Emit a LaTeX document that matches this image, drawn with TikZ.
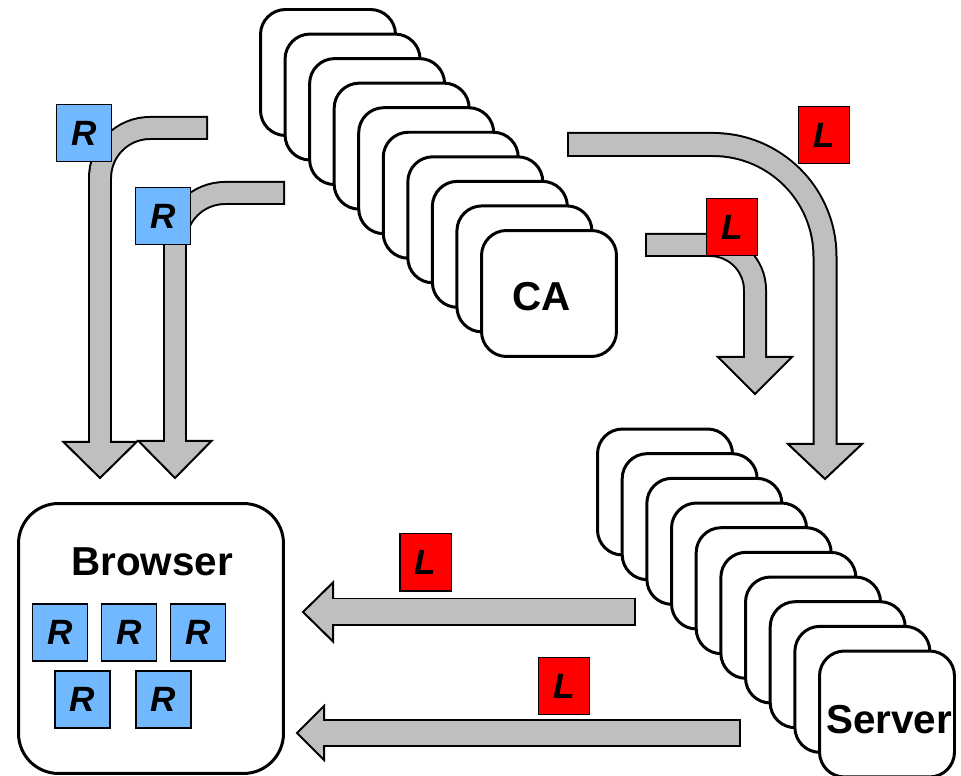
\documentclass[tikz,border=0pt]{standalone}
\usepackage{fontspec}
\setmainfont{Liberation Sans}
\usepackage{xcolor}
\usepackage{tikz}
\usetikzlibrary{calc}
\definecolor{arrowgray}{RGB}{191,191,191}
\definecolor{rblue}{RGB}{112,184,255}
\definecolor{lred}{RGB}{255,0,0}

\begin{document}
\begin{tikzpicture}[x=0.02cm, y=-0.02cm,
        stackbox/.style={draw, fill=white, rounded corners=0.5cm, line width=1.7pt, minimum width=2.7cm, minimum height=2.52cm},
        browserbox/.style={draw, fill=white, rounded corners=0.8cm, line width=1.7pt, minimum width=5.3cm, minimum height=5.4cm},
        bigtext/.style={inner sep=0pt, font=\fontsize{23}{27}\selectfont\bfseries},
        rbox/.style={draw, fill=rblue, line width=0.85pt, inner sep=0pt, minimum width=1.11cm, minimum height=1.15cm, font=\fontsize{20}{24}\selectfont\bfseries\itshape},
        lbox/.style={draw, fill=lred, line width=0.85pt, inner sep=0pt, minimum width=1.03cm, minimum height=1.15cm, font=\fontsize{20}{24}\selectfont\bfseries\itshape},
        fatline/.style={draw=black, line width=#1},
        fatfill/.style={draw=arrowgray, line width=#1, shorten <=0.04cm, shorten >=-0.12cm},
        fathead/.style={fill=arrowgray, draw=black, line width=0.04cm, line join=miter}]
        \useasboundingbox (0,0) rectangle (961,776);

        % certificate authorities
        \foreach \i in {0,...,8}
            \node[stackbox] (ca\i) at (328+24.55*\i, 72.5+24.55*\i) {};
        \node[stackbox] (ca) at (549, 293.5) {};
        \node[bigtext] (catext) at (542, 297) {CA};

        % servers
        \foreach \i in {0,...,8}
            \node[stackbox] (srv\i) at (665+24.67*\i, 492+24.67*\i) {};
        \node[stackbox] (srv) at (887, 714) {};
        \node[bigtext] (srvtext) at (889, 720) {Server};

        % browser
        \node[browserbox] (browser) at (151, 638.5) {};
        \node[bigtext] (browsertext) at (152, 562) {Browser};
        \node[rbox] (rb1) at (60, 632.5) {R};
        \node[rbox] (rb2) at (129, 632.5) {R};
        \node[rbox] (rb3) at (198, 632.5) {R};
        \node[rbox] (rb4) at (82.5, 699.5) {R};
        \node[rbox] (rb5) at (163.5, 699.5) {R};

        % roots to the browser
        \coordinate (r1s) at (208, 128);
        \coordinate (r1b) at (100, 442);
        \coordinate (r1t) at (100, 478);
        \draw[fatline=0.48cm, rounded corners=1cm] (r1s) -| (r1b);
        \draw[fathead] ($(r1b)+(-36.5,0)$) -- (r1t) -- ($(r1b)+(36.5,0)$) -- cycle;
        \draw[fatfill=0.40cm, rounded corners=1cm] (r1s) -| (r1b);

        \coordinate (r2s) at (285, 193);
        \coordinate (r2b) at (175, 441);
        \coordinate (r2t) at (175, 478);
        \draw[fatline=0.48cm, rounded corners=1cm] (r2s) -| (r2b);
        \draw[fathead] ($(r2b)+(-36.5,0)$) -- (r2t) -- ($(r2b)+(36.5,0)$) -- cycle;
        \draw[fatfill=0.40cm, rounded corners=1cm] (r2s) -| (r2b);

        \node[rbox] (rr1) at (84, 133) {R};
        \node[rbox] (rr2) at (163, 216) {R};

        % leaves to the servers
        \coordinate (l1s) at (567, 144.5);
        \coordinate (l1b) at (825, 444);
        \coordinate (l1t) at (825, 479);
        \draw[fatline=0.5cm, rounded corners=2.24cm] (l1s) -| (l1b);
        \draw[fathead] ($(l1b)+(-37,0)$) -- (l1t) -- ($(l1b)+(37,0)$) -- cycle;
        \draw[fatfill=0.42cm, rounded corners=2.24cm] (l1s) -| (l1b);

        \coordinate (l2s) at (645, 245);
        \coordinate (l2b) at (755, 357);
        \coordinate (l2t) at (755, 394);
        \draw[fatline=0.48cm, rounded corners=0.9cm] (l2s) -| (l2b);
        \draw[fathead] ($(l2b)+(-37,0)$) -- (l2t) -- ($(l2b)+(37,0)$) -- cycle;
        \draw[fatfill=0.40cm, rounded corners=0.9cm] (l2s) -| (l2b);

        \node[lbox] (lb1) at (824, 135) {L};
        \node[lbox] (lb2) at (732, 227) {L};

        % leaves to the browser
        \coordinate (l3s) at (636, 612);
        \coordinate (l3b) at (333, 612);
        \coordinate (l3t) at (303, 612);
        \draw[fatline=0.58cm] (l3s) -- (l3b);
        \draw[fathead] ($(l3b)+(0,-29.5)$) -- (l3t) -- ($(l3b)+(0,29.5)$) -- cycle;
        \draw[fatfill=0.50cm] (l3s) -- (l3b);

        \coordinate (l4s) at (741, 733);
        \coordinate (l4b) at (324, 733);
        \coordinate (l4t) at (297, 733);
        \draw[fatline=0.56cm] (l4s) -- (l4b);
        \draw[fathead] ($(l4b)+(0,-27)$) -- (l4t) -- ($(l4b)+(0,27)$) -- cycle;
        \draw[fatfill=0.48cm] (l4s) -- (l4b);

        \node[lbox] (lb3) at (425.5, 562.5) {L};
        \node[lbox] (lb4) at (564, 686) {L};
    \end{tikzpicture}
\end{document}
